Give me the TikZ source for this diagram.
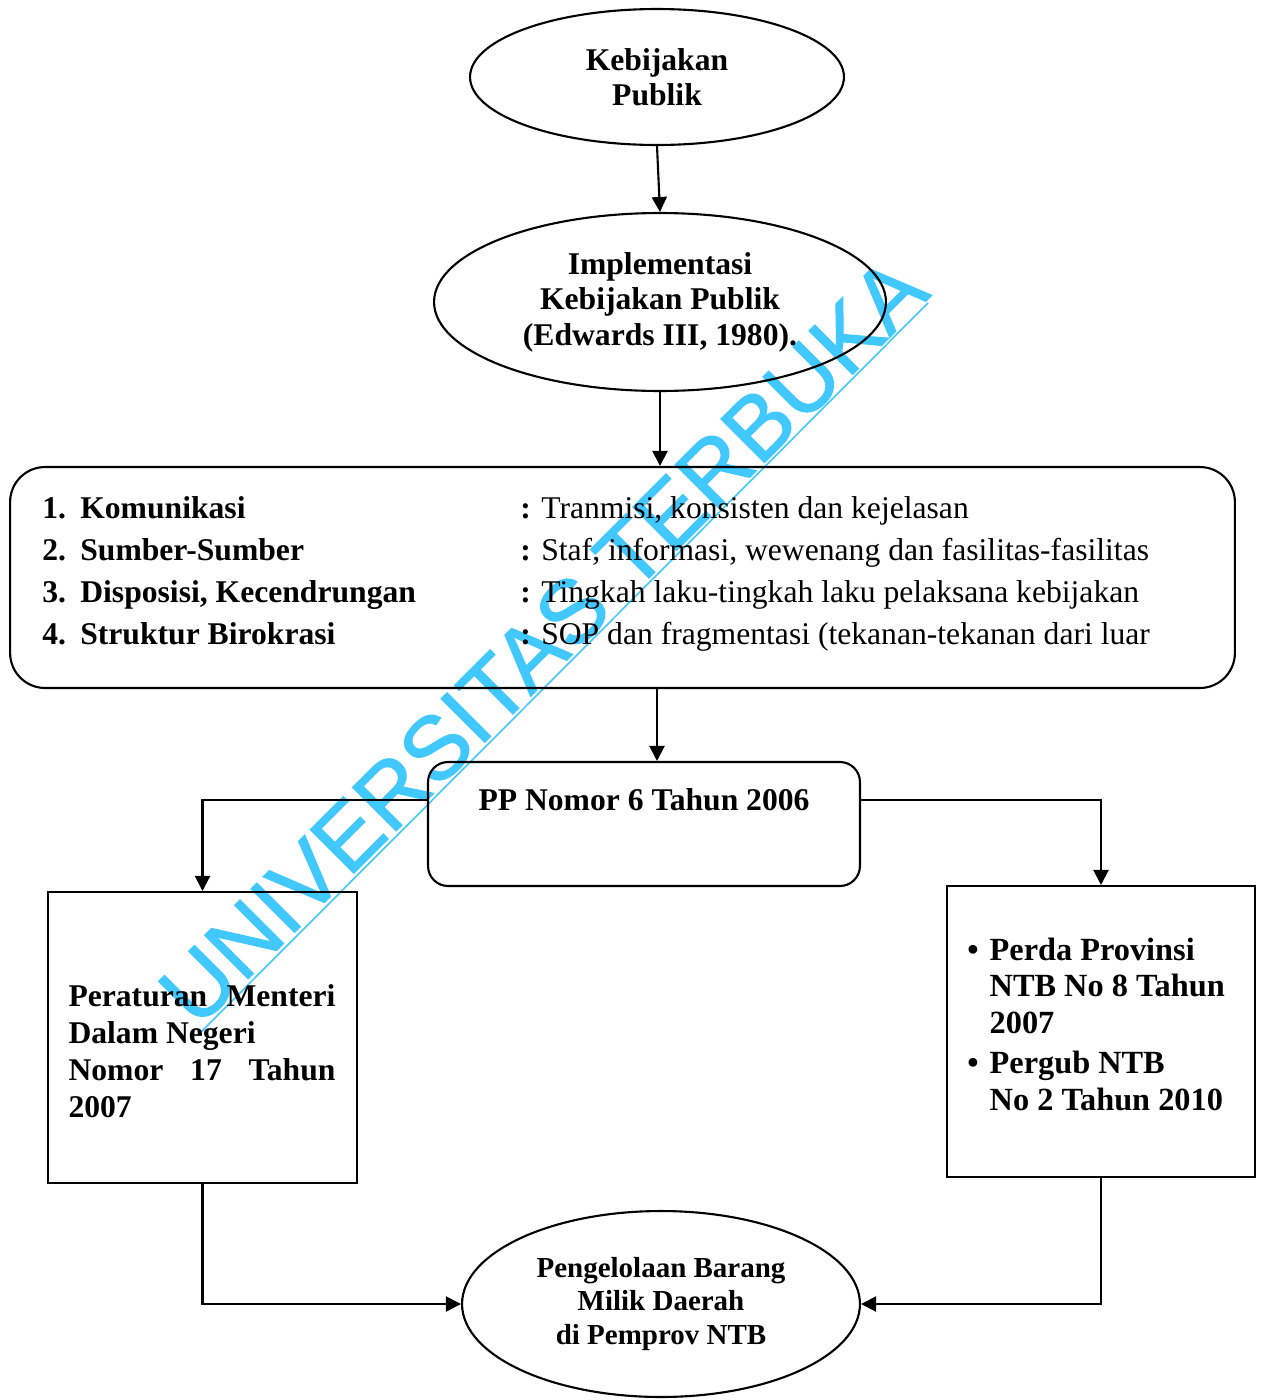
\documentclass[tikz,border=0pt]{standalone}
\usepackage{fontspec}
\setmainfont{Liberation Serif}
\newfontfamily\wmfont[FakeBold=1.2]{Liberation Sans}
\usetikzlibrary{shapes.geometric,calc,arrows.meta,positioning}
\definecolor{wmcyan}{RGB}{64,200,255}
\tikzset{
  oval/.style={draw,ellipse,line width=1.2pt,inner sep=0pt,align=center,
    font=\bfseries\fontsize{18}{20.2}\selectfont},
  boxline/.style={draw,line width=1.2pt},
  boldtext/.style={inner sep=0pt,font=\bfseries\fontsize{18}{21}\selectfont},
  flow/.style={line width=1.2pt,-{Triangle[length=0.3cm,width=0.3cm]}}
}

\begin{document}
\begin{tikzpicture}[x=0.02cm,y=-0.02cm]
  \useasboundingbox (0,0) rectangle (1261,1400);
  % watermark
  \node[wmcyan,rotate=45,anchor=base west,inner sep=0pt,
    font=\wmfont\fontsize{51}{60}\selectfont] (wm) at (197,1030) {UNIVERSITAS TERBUKA};
  \draw[wmcyan,line width=0.9pt] (200,1033) -- (928,303);

  \node[oval,font=\bfseries\fontsize{18}{19.8}\selectfont,
    minimum width=7.48cm,minimum height=2.72cm] (keb) at (657,77)
    {Kebijakan\\Publik};
  \node[oval,minimum width=9.04cm,minimum height=3.56cm] (impl) at (660,302)
    {Implementasi\\Kebijakan Publik\\(Edwards III, 1980).};

  \node[boxline,rounded corners=0.7cm,minimum width=24.5cm,minimum height=4.42cm]
    (dim) at (622.5,577.5) {};
  \node[anchor=west,inner sep=0pt,font=\fontsize{18}{23.8}\selectfont] (dimtext) at (42,573)
    {\begin{tabular}{@{}p{0.76cm}@{}p{8.8cm}@{}l@{}}
      \textbf{1.} & \textbf{Komunikasi} & \textbf{:} Tranmisi, konsisten dan kejelasan\\
      \textbf{2.} & \textbf{Sumber-Sumber} & \textbf{:} Staf, informasi, wewenang dan fasilitas-fasilitas\\
      \textbf{3.} & \textbf{Disposisi, Kecendrungan} & \textbf{:} Tingkah laku-tingkah laku pelaksana kebijakan\\
      \textbf{4.} & \textbf{Struktur Birokrasi} & \textbf{:} SOP dan fragmentasi (tekanan-tekanan dari luar
    \end{tabular}};

  \node[boxline,rounded corners=0.4cm,minimum width=8.64cm,minimum height=2.48cm]
    (pp) at (644,824) {};
  \node[boldtext] (pptext) at (644,800) {PP Nomor 6 Tahun 2006};

  \node[boxline,minimum width=6.18cm,minimum height=5.82cm] (pmdn) at (202.5,1037.5) {};
  \node[boldtext,text width=5.34cm,align=flush left] (pmdntext) at (202,1051)
    {\makebox[5.34cm][s]{Peraturan Menteri}\\Dalam Negeri\\
     \makebox[5.34cm][s]{Nomor 17 Tahun}\\2007};

  \node[boxline,minimum width=6.16cm,minimum height=5.82cm] (perda) at (1101,1031.5) {};
  \node[boldtext,anchor=west,font=\bfseries\fontsize{18.4}{21}\selectfont]
    (perdatext) at (967,1028)
    {\begin{tabular}{@{}l@{\hspace{0.22cm}}l@{}}
      \textbullet & Perda Provinsi\\
                  & NTB No 8 Tahun\\
                  & 2007\\[0.06cm]
      \textbullet & Pergub NTB\\
                  & No 2 Tahun 2010
    \end{tabular}};

  \node[oval,font=\bfseries\fontsize{16.5}{19.3}\selectfont,
    minimum width=7.96cm,minimum height=3.72cm] (pbmd) at (661,1304)
    {Pengelolaan Barang\\Milik Daerah\\di Pemprov NTB};

  \draw[flow] (keb.south) -- (impl.north);
  \draw[flow] (impl.south) -- (impl.south |- dim.north);
  \draw[flow] (dim.south -| keb.south) -- (pp.north -| keb.south);
  \draw[flow] (pp.west |- pptext) -| (pmdn.north);
  \draw[flow] (pp.east |- pptext) -| (perda.north);
  \draw[flow] (pmdn.south) |- (pbmd.west);
  \draw[flow] (perda.south) |- (pbmd.east);
\end{tikzpicture}
\end{document}
